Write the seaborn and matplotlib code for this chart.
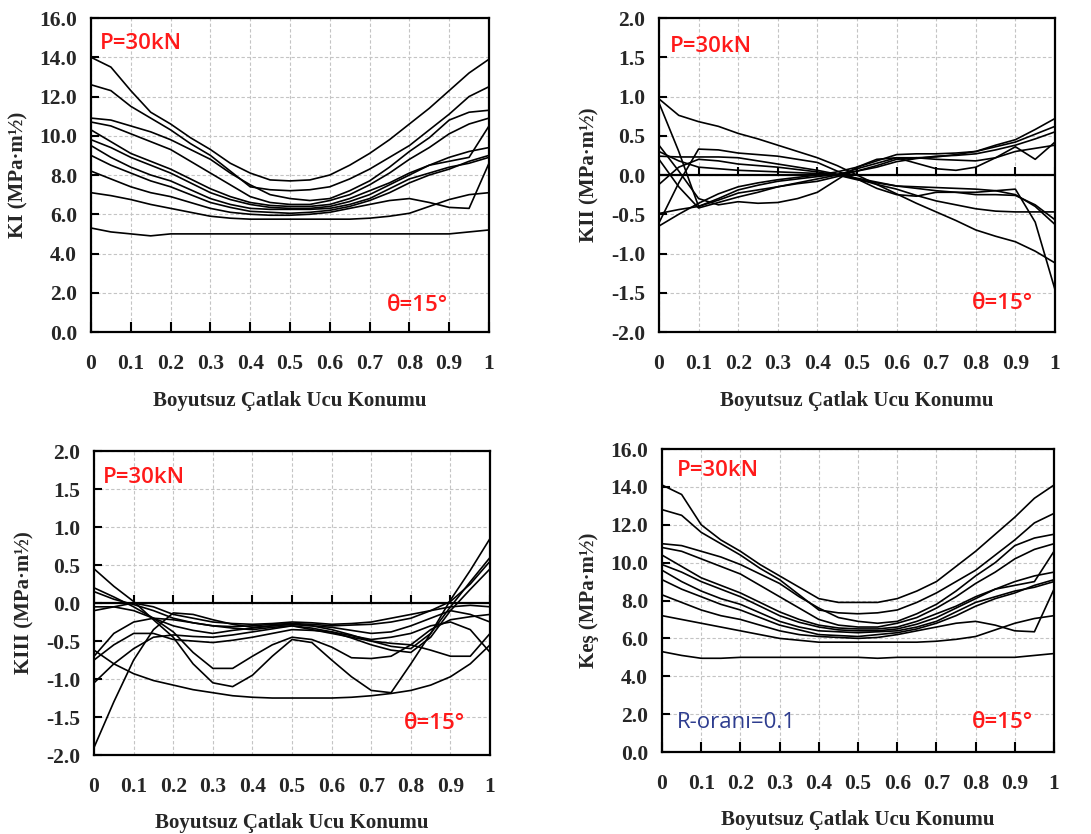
import numpy as np
import pandas as pd
import seaborn as sns
import matplotlib.pyplot as plt

# crack front positions used for every curve
x_pos = [0, 0.05, 0.1, 0.15, 0.2, 0.25, 0.3, 0.35, 0.4, 0.45, 0.5,
         0.55, 0.6, 0.65, 0.7, 0.75, 0.8, 0.85, 0.9, 0.95, 1.0]

# KI curves (MPa m^1/2)
ki_values = [
    [14.0, 13.5, 12.3, 11.2, 10.6, 9.9, 9.3, 8.6, 8.1, 7.75, 7.7, 7.75, 8.0, 8.5, 9.1, 9.8, 10.6, 11.4, 12.3, 13.2, 13.9],
    [12.6, 12.3, 11.5, 10.9, 10.3, 9.6, 9.0, 8.2, 7.4, 7.25, 7.2, 7.25, 7.4, 7.8, 8.3, 8.9, 9.5, 10.3, 11.1, 12.0, 12.5],
    [10.9, 10.8, 10.5, 10.2, 9.8, 9.3, 8.8, 8.1, 7.5, 7.0, 6.8, 6.7, 6.8, 7.2, 7.7, 8.4, 9.2, 9.9, 10.8, 11.2, 11.3],
    [10.7, 10.5, 10.1, 9.7, 9.3, 8.7, 8.1, 7.5, 6.9, 6.6, 6.5, 6.5, 6.7, 7.0, 7.5, 8.1, 8.8, 9.4, 10.1, 10.6, 10.9],
    [10.3, 9.7, 9.1, 8.7, 8.3, 7.8, 7.3, 6.9, 6.6, 6.45, 6.4, 6.4, 6.5, 6.8, 7.2, 7.6, 8.1, 8.5, 8.7, 8.9, 10.5],
    [9.8, 9.4, 8.9, 8.5, 8.1, 7.6, 7.1, 6.75, 6.5, 6.35, 6.3, 6.3, 6.4, 6.65, 7.0, 7.5, 8.0, 8.5, 8.9, 9.2, 9.4],
    [9.5, 8.9, 8.4, 8.0, 7.7, 7.25, 6.8, 6.5, 6.3, 6.25, 6.25, 6.25, 6.3, 6.5, 6.8, 7.3, 7.8, 8.1, 8.4, 8.6, 8.9],
    [9.0, 8.5, 8.1, 7.7, 7.4, 7.0, 6.6, 6.35, 6.15, 6.1, 6.05, 6.1, 6.2, 6.4, 6.7, 7.1, 7.6, 8.0, 8.3, 8.7, 9.0],
    [8.2, 7.8, 7.4, 7.1, 6.9, 6.6, 6.3, 6.1, 6.0, 5.95, 5.95, 6.0, 6.1, 6.3, 6.5, 6.7, 6.8, 6.6, 6.35, 6.3, 8.6],
    [7.1, 6.95, 6.75, 6.5, 6.3, 6.1, 5.9, 5.8, 5.75, 5.75, 5.75, 5.75, 5.75, 5.75, 5.8, 5.9, 6.05, 6.4, 6.75, 7.0, 7.1],
    [5.3, 5.1, 5.0, 4.9, 5.0, 5.0, 5.0, 5.0, 5.0, 5.0, 5.0, 5.0, 5.0, 5.0, 5.0, 5.0, 5.0, 5.0, 5.0, 5.1, 5.2],
]

# KII curves
kii_values = [
    [0.97, 0.76, 0.68, 0.62, 0.53, 0.46, 0.38, 0.30, 0.22, 0.12, 0.00, -0.12, -0.24, -0.36, -0.47, -0.58, -0.70, -0.78, -0.85, -0.97, -1.12],
    [0.92, 0.30, -0.40, -0.32, -0.23, -0.19, -0.15, -0.11, -0.08, -0.02, 0.05, 0.12, 0.20, 0.22, 0.23, 0.26, 0.30, 0.38, 0.45, 0.58, 0.72],
    [0.38, 0.05, -0.30, -0.38, -0.34, -0.36, -0.35, -0.30, -0.22, -0.06, 0.10, 0.20, 0.22, 0.15, 0.08, 0.06, 0.10, 0.22, 0.36, 0.20, 0.42],
    [0.24, 0.23, 0.23, 0.23, 0.22, 0.18, 0.14, 0.10, 0.06, 0.01, -0.05, -0.12, -0.18, -0.26, -0.33, -0.38, -0.43, -0.46, -0.47, -0.47, -0.47],
    [-0.61, -0.10, 0.33, 0.32, 0.28, 0.26, 0.24, 0.20, 0.16, 0.05, -0.05, -0.17, -0.25, -0.27, -0.22, -0.22, -0.22, -0.20, -0.18, -0.60, -1.46],
    [-0.49, -0.44, -0.40, -0.30, -0.19, -0.13, -0.08, -0.05, -0.02, 0.01, 0.05, 0.10, 0.17, 0.21, 0.24, 0.25, 0.27, 0.32, 0.38, 0.46, 0.55],
    [-0.65, -0.50, -0.36, -0.24, -0.15, -0.10, -0.06, -0.03, 0.00, 0.04, 0.10, 0.18, 0.26, 0.27, 0.27, 0.28, 0.30, 0.36, 0.42, 0.52, 0.62],
    [0.30, 0.18, 0.10, 0.08, 0.06, 0.05, 0.04, 0.03, 0.02, 0.00, -0.04, -0.09, -0.14, -0.17, -0.20, -0.22, -0.25, -0.25, -0.26, -0.38, -0.57],
    [0.20, -0.15, -0.42, -0.35, -0.28, -0.22, -0.15, -0.10, -0.05, 0.00, 0.08, 0.15, 0.22, 0.22, 0.20, 0.19, 0.18, 0.22, 0.30, 0.34, 0.38],
    [-0.12, 0.10, 0.20, 0.18, 0.14, 0.12, 0.10, 0.07, 0.04, 0.00, -0.06, -0.10, -0.14, -0.15, -0.16, -0.17, -0.18, -0.20, -0.25, -0.40, -0.63],
]

# KIII curves
kiii_values = [
    [0.45, 0.22, 0.02, -0.22, -0.45, -0.80, -1.05, -1.10, -0.95, -0.70, -0.48, -0.52, -0.75, -0.97, -1.15, -1.18, -0.80, -0.40, 0.04, 0.43, 0.85],
    [0.20, 0.08, -0.05, -0.20, -0.38, -0.65, -0.86, -0.86, -0.70, -0.55, -0.45, -0.48, -0.58, -0.72, -0.73, -0.70, -0.55, -0.35, -0.22, -0.18, -0.15],
    [-0.62, -0.80, -0.93, -1.02, -1.08, -1.14, -1.18, -1.22, -1.24, -1.25, -1.25, -1.25, -1.25, -1.24, -1.22, -1.19, -1.15, -1.08, -0.97, -0.80, -0.55],
    [-1.90, -1.30, -0.75, -0.35, -0.13, -0.15, -0.22, -0.28, -0.32, -0.30, -0.28, -0.30, -0.32, -0.36, -0.40, -0.38, -0.30, -0.20, -0.10, -0.15, -0.25],
    [-0.05, -0.05, -0.10, -0.20, -0.30, -0.36, -0.40, -0.36, -0.33, -0.30, -0.28, -0.30, -0.35, -0.42, -0.50, -0.57, -0.60, -0.40, -0.05, 0.28, 0.60],
    [0.15, 0.05, -0.02, -0.10, -0.20, -0.26, -0.30, -0.31, -0.30, -0.28, -0.27, -0.28, -0.30, -0.29, -0.28, -0.25, -0.20, -0.10, 0.02, 0.25, 0.55],
    [-1.05, -0.80, -0.60, -0.45, -0.42, -0.44, -0.45, -0.42, -0.38, -0.34, -0.30, -0.33, -0.38, -0.46, -0.55, -0.62, -0.65, -0.45, -0.10, 0.18, 0.45],
    [-0.10, -0.05, 0.00, -0.05, -0.15, -0.20, -0.25, -0.27, -0.28, -0.27, -0.25, -0.26, -0.28, -0.27, -0.25, -0.20, -0.15, -0.10, -0.05, -0.03, -0.05],
    [-0.70, -0.40, -0.25, -0.20, -0.22, -0.26, -0.30, -0.33, -0.35, -0.32, -0.30, -0.35, -0.40, -0.45, -0.50, -0.53, -0.55, -0.62, -0.70, -0.70, -0.40],
    [-0.75, -0.55, -0.40, -0.40, -0.48, -0.50, -0.52, -0.49, -0.45, -0.40, -0.35, -0.36, -0.38, -0.43, -0.48, -0.45, -0.40, -0.30, -0.25, -0.35, -0.65],
]

# equivalent SIF curves
keq_values = [
    [14.1, 13.6, 12.0, 11.2, 10.6, 9.9, 9.3, 8.7, 8.1, 7.9, 7.9, 7.9, 8.1, 8.5, 9.0, 9.8, 10.6, 11.5, 12.4, 13.4, 14.1],
    [12.8, 12.5, 11.6, 11.0, 10.4, 9.7, 9.1, 8.3, 7.5, 7.35, 7.3, 7.35, 7.5, 7.9, 8.4, 9.0, 9.6, 10.4, 11.2, 12.1, 12.6],
    [11.0, 10.9, 10.6, 10.3, 9.9, 9.4, 8.9, 8.2, 7.6, 7.1, 6.9, 6.8, 6.9, 7.3, 7.8, 8.5, 9.3, 10.0, 10.9, 11.3, 11.5],
    [10.8, 10.6, 10.2, 9.8, 9.4, 8.8, 8.2, 7.6, 7.0, 6.7, 6.6, 6.6, 6.8, 7.1, 7.6, 8.2, 8.9, 9.5, 10.2, 10.7, 11.0],
    [10.4, 9.8, 9.2, 8.8, 8.4, 7.9, 7.4, 7.0, 6.7, 6.55, 6.5, 6.5, 6.6, 6.9, 7.3, 7.7, 8.2, 8.6, 8.8, 9.0, 10.6],
    [9.9, 9.5, 9.0, 8.6, 8.2, 7.7, 7.2, 6.85, 6.6, 6.45, 6.4, 6.4, 6.5, 6.75, 7.1, 7.6, 8.1, 8.6, 9.0, 9.3, 9.5],
    [9.6, 9.0, 8.5, 8.1, 7.8, 7.35, 6.9, 6.6, 6.4, 6.35, 6.3, 6.35, 6.4, 6.6, 6.9, 7.4, 7.9, 8.2, 8.5, 8.7, 9.0],
    [9.1, 8.6, 8.2, 7.8, 7.5, 7.1, 6.7, 6.45, 6.2, 6.15, 6.1, 6.2, 6.3, 6.5, 6.8, 7.2, 7.7, 8.1, 8.4, 8.8, 9.1],
    [8.3, 7.9, 7.5, 7.2, 7.0, 6.7, 6.4, 6.2, 6.1, 6.05, 6.0, 6.05, 6.2, 6.4, 6.6, 6.8, 6.9, 6.7, 6.4, 6.35, 8.6],
    [7.2, 7.0, 6.8, 6.6, 6.4, 6.2, 6.0, 5.9, 5.8, 5.8, 5.8, 5.8, 5.8, 5.8, 5.85, 5.95, 6.1, 6.45, 6.8, 7.05, 7.2],
    [5.3, 5.1, 4.95, 4.95, 5.0, 5.0, 5.0, 5.0, 5.0, 5.0, 5.0, 4.95, 5.0, 5.0, 5.0, 5.0, 5.0, 5.0, 5.0, 5.1, 5.2],
]

x_ticks = [0, 0.1, 0.2, 0.3, 0.4, 0.5, 0.6, 0.7, 0.8, 0.9, 1.0]
x_tick_labels = ['0', '0.1', '0.2', '0.3', '0.4', '0.5', '0.6', '0.7', '0.8', '0.9', '1']
ki_ticks = [0, 2, 4, 6, 8, 10, 12, 14, 16]
kii_ticks = [-2.0, -1.5, -1.0, -0.5, 0.0, 0.5, 1.0, 1.5, 2.0]

xlabel = 'Boyutsuz Çatlak Ucu Konumu'

sns.set_style('white')
plt.rcParams['font.family'] = ['Liberation Serif', 'DejaVu Serif']
plt.rcParams['xtick.bottom'] = True
plt.rcParams['ytick.left'] = True

fig = plt.figure(figsize=(10.91, 8.34), dpi=100)
fig.patch.set_facecolor('white')

red = '#ff1a1a'
ann_font = ['Open Sans', 'DejaVu Sans']


def long_form(curves):
    rows = []
    for i, c in enumerate(curves):
        for xv, yv in zip(x_pos, c):
            rows.append((i, xv, yv))
    return pd.DataFrame(rows, columns=['curve', 'x', 'val'])


def draw(rect, curves, yticks, ylabel, zero_axis, p_xy, th_xy, xlabelpad):
    ax = fig.add_axes(rect)
    df = long_form(curves)
    sns.lineplot(data=df, x='x', y='val', units='curve', estimator=None,
                 color='black', lw=1.2, ax=ax, legend=False)
    ax.set_xlim(0, 1)
    ax.set_ylim(yticks[0], yticks[-1])
    ax.set_xticks(x_ticks)
    ax.set_xticklabels(x_tick_labels)
    ax.set_yticks(yticks)
    ax.set_yticklabels([f'{v:.1f}' for v in yticks])
    ax.grid(True, color='#c4c4c4', ls=(0, (3, 2)), lw=0.8)
    ax.set_axisbelow(True)
    for s in ax.spines.values():
        s.set_visible(True)
        s.set_color('black')
        s.set_linewidth(1.6)
    for lab in ax.get_xticklabels() + ax.get_yticklabels():
        lab.set_fontweight('bold')
        lab.set_fontsize(15.5)
    ax.tick_params(axis='y', direction='in', length=6, width=1.5, pad=10,
                   left=True, color='black')
    if zero_axis:
        # horizontal axis crosses at zero (Excel style), labels stay at the bottom
        ax.axhline(0, color='black', lw=1.6, zorder=3)
        tick_h = (yticks[-1] - yticks[0]) * 0.025
        ax.vlines(x_ticks, 0, tick_h, color='black', lw=1.5, zorder=3)
        ax.tick_params(axis='x', length=0, pad=16)
    else:
        ax.tick_params(axis='x', direction='in', length=7, width=1.5, pad=16,
                       bottom=True, color='black')
    ax.set_xlabel(xlabel, fontsize=15, fontweight='bold', labelpad=xlabelpad)
    ax.set_ylabel(ylabel, fontsize=15, fontweight='bold', labelpad=8)
    ax.text(p_xy[0], p_xy[1], 'P=30kN', transform=ax.transAxes, color=red,
            fontsize=16, family=ann_font, fontweight='semibold', va='center', ha='left')
    ax.text(th_xy[0], th_xy[1], 'θ=15°', transform=ax.transAxes, color=red,
            fontsize=16, family=ann_font, fontweight='semibold', va='center', ha='right')
    return ax


draw([0.0834, 0.6019, 0.3648, 0.3765], ki_values, ki_ticks, 'KI (MPa·m½)', False,
     (0.023, 0.92), (0.897, 0.086), 12)
draw([0.604, 0.6019, 0.363, 0.3765], kii_values, kii_ticks, 'KII (MPa·m½)', True,
     (0.028, 0.908), (0.944, 0.092), 12)
draw([0.0862, 0.0947, 0.363, 0.3645], kiii_values, kii_ticks, 'KIII (MPa·m½)', True,
     (0.023, 0.914), (0.937, 0.105), 11)
ax4 = draw([0.6068, 0.0983, 0.3593, 0.3633], keq_values, ki_ticks, 'Keş (MPa·m½)', False,
           (0.038, 0.93), (0.946, 0.096), 11)
ax4.text(0.038, 0.096, 'R-oranı=0.1', transform=ax4.transAxes, color='#2e3d8f',
         fontsize=16, family=ann_font, va='center', ha='left')

fig.savefig('out.png', dpi=100, facecolor='white')
